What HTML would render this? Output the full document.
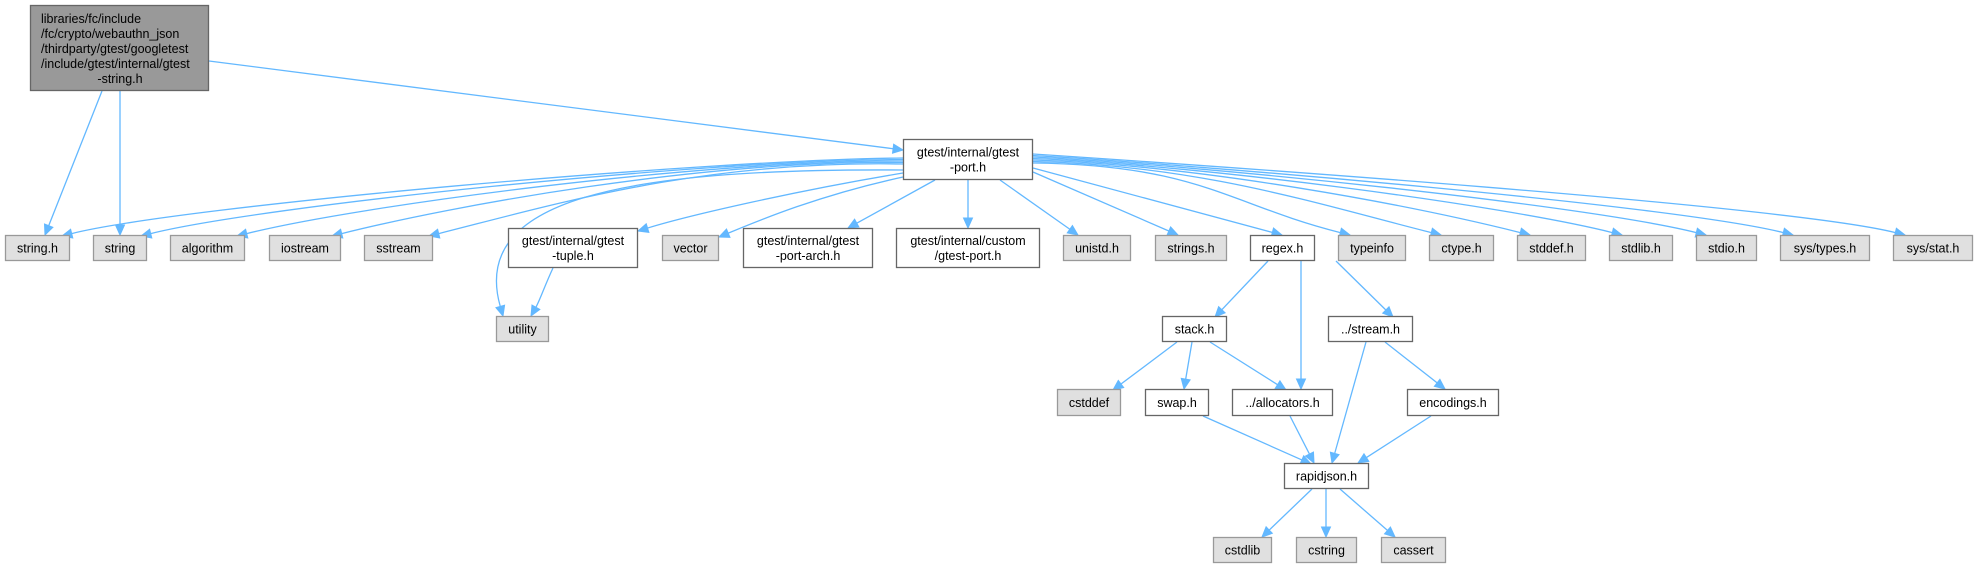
<!DOCTYPE html>
<html><head><meta charset="utf-8"><style>
html,body{margin:0;padding:0;background:#fff;width:1979px;height:568px;overflow:hidden}
svg{display:block}
text{font-family:"Liberation Sans",Arial,sans-serif;font-size:12.5px;fill:#000}
</style></head><body>
<svg id="s" width="1979" height="568" xmlns="http://www.w3.org/2000/svg">
<g id="edges" fill="none" stroke="#63b8ff" stroke-width="1.3"></g>
<g id="heads" fill="#63b8ff" stroke="#63b8ff"></g>
<g id="nodes"></g>
</svg>
<script>
const N={
main:[30,5,209,91,'m'],
port:[903,139,1033,180,'w',['gtest/internal/gtest','-port.h']],
stringh:[5,235,70,261,'g',['string.h']],
string:[93,235,147,261,'g',['string']],
algorithm:[170,235,245,261,'g',['algorithm']],
iostream:[269,235,341,261,'g',['iostream']],
sstream:[364,235,433,261,'g',['sstream']],
tuple:[508,228,638,268,'w',['gtest/internal/gtest','-tuple.h']],
vector:[662,235,719,261,'g',['vector']],
arch:[743,228,873,268,'w',['gtest/internal/gtest','-port-arch.h']],
custom:[896,228,1040,268,'w',['gtest/internal/custom','/gtest-port.h']],
unistd:[1063,235,1131,261,'g',['unistd.h']],
strings:[1155,235,1227,261,'g',['strings.h']],
regex:[1250,235,1315,261,'w',['regex.h']],
typeinfo:[1338,235,1406,261,'g',['typeinfo']],
ctype:[1429,235,1494,261,'g',['ctype.h']],
stddef:[1517,235,1586,261,'g',['stddef.h']],
stdlib:[1609,235,1673,261,'g',['stdlib.h']],
stdio:[1696,235,1757,261,'g',['stdio.h']],
systypes:[1780,235,1870,261,'g',['sys/types.h']],
sysstat:[1893,235,1973,261,'g',['sys/stat.h']],
utility:[496,316,549,342,'g',['utility']],
stack:[1162,316,1227,342,'w',['stack.h']],
stream:[1328,316,1413,342,'w',['../stream.h']],
cstddef:[1057,389,1121,416,'g',['cstddef']],
swap:[1145,389,1209,416,'w',['swap.h']],
alloc:[1232,389,1333,416,'w',['../allocators.h']],
enc:[1407,389,1499,416,'w',['encodings.h']],
rapid:[1284,463,1369,489,'w',['rapidjson.h']],
cstdlib:[1213,537,1272,563,'g',['cstdlib']],
cstring:[1296,537,1357,563,'g',['cstring']],
cassert:[1381,537,1446,563,'g',['cassert']]
};
const ns='http://www.w3.org/2000/svg';
function el(t,a,p){const e=document.createElementNS(ns,t);for(const k in a)e.setAttribute(k,a[k]);p.appendChild(e);return e;}
const G=document.getElementById('nodes'),E=document.getElementById('edges'),H=document.getElementById('heads');
for(const k in N){const [x1,y1,x2,y2,t,l]=N[k];
 const fill=t=='g'?'#e0e0e0':t=='m'?'#999999':'#ffffff',st=t=='g'?'#999999':'#666666';
 el('rect',{x:x1+.5,y:y1+.5,width:x2-x1-1,height:y2-y1-1,fill:fill,stroke:st,'stroke-width':1.3},G);
 if(t=='m'){const L=['libraries/fc/include','/fc/crypto/webauthn_json','/thirdparty/gtest/googletest','/include/gtest/internal/gtest'];
  L.forEach((s,i)=>{const tx=el('text',{x:41,y:23+i*15},G);tx.textContent=s;});
  const tx=el('text',{x:120,y:83,'text-anchor':'middle'},G);tx.textContent='-string.h';}
 else{const cx=(x1+x2)/2,h=y2-y1;
  l.forEach((s,i)=>{const y=l.length==1?(y1+y2)/2+4.5:y1+h/2-7.5+15*i+4.5;const tx=el('text',{x:cx,y:y,'text-anchor':'middle'},G);tx.textContent=s;});}
}
function head(px,py,x,y){const dx=x-px,dy=y-py,L=Math.hypot(dx,dy),ux=dx/L,uy=dy/L,len=10,w=4.5;
 const bx=x-ux*len,by=y-uy*len;
 el('polygon',{points:`${x},${y} ${bx-uy*w},${by+ux*w} ${bx+uy*w},${by-ux*w}`},H);
 return [bx,by];}
function line(sx,sy,tx,ty){const [bx,by]=head(sx,sy,tx,ty);el('path',{d:`M${sx},${sy}L${bx},${by}`},E);}
function curve(sx,sy,c1x,c1y,c2x,c2y,tx,ty){const [bx,by]=head(c2x,c2y,tx,ty);el('path',{d:`M${sx},${sy}C${c1x},${c1y} ${c2x},${c2y} ${bx},${by}`},E);}
// main edges
line(209,61,903,150);
line(102,91,45,235);
line(120,91,120,235);
// port fan out to left row
const lefts=[['stringh',62,236],['string',141,236],['algorithm',237,236],['iostream',332,236],['sstream',429,236]];
lefts.forEach(([k,tx,ty],i)=>{curve(903,158+i*1.5,700,160,tx+120,ty-30,tx,ty);});
curve(903,170,620,168,470,200,503,316);
curve(903,173,800,190,690,215,638,231);
curve(903,177,820,195,760,220,719,237);
line(935,180,848,228);
line(968,180,968,228);
line(1000,180,1078,235);
line(1033,172,1178,235);
line(1033,168,1282,235);
const rights=[['typeinfo',1350],['ctype',1441],['stddef',1530],['stdlib',1622],['stdio',1706],['systypes',1793],['sysstat',1905]];
rights.forEach(([k,tx],i)=>{curve(1033,163-i*1.5,1200,165,tx-120,205,tx,235);});
// sub edges
curve(553,268,545,285,540,300,531,316);
line(1268,261,1215,317);
line(1301,261,1301,389);
line(1336,261,1393,317);
line(1177,342,1113,390);
line(1192,342,1184,389);
line(1210,342,1286,390);
line(1366,342,1332,463);
line(1385,342,1445,389);
line(1203,416,1311,464);
line(1290,416,1314,463);
line(1431,416,1358,463);
line(1312,489,1262,537);
line(1326,489,1326,537);
line(1340,489,1395,537);
</script>
</body></html>
